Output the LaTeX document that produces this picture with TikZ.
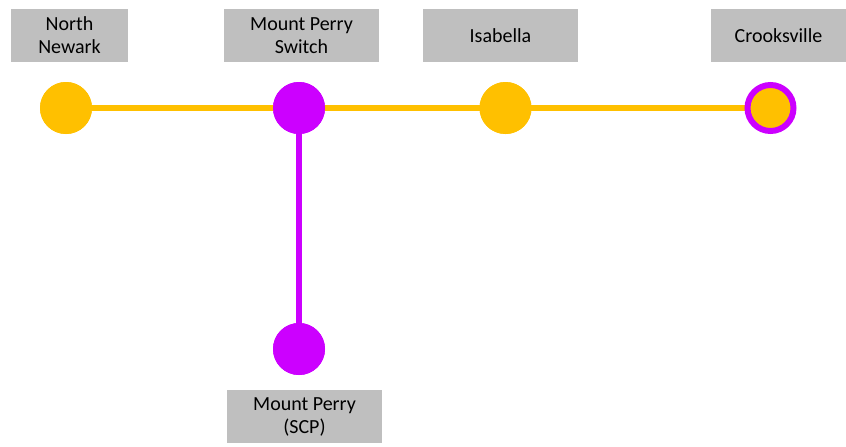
\documentclass[tikz,border=0pt]{standalone}
\usepackage{fontspec}
\setmainfont{Carlito}
\definecolor{ylw}{HTML}{FFC000}
\definecolor{prp}{HTML}{CC00FF}
\definecolor{gry}{HTML}{BFBFBF}
\begin{document}
\begin{tikzpicture}[x=1pt,y=-1pt,
  lbl/.style={fill=gry,inner sep=0pt,align=center,font=\fontsize{20}{23}\selectfont,minimum height=53pt},
  ystn/.style={circle,fill=ylw,minimum size=52pt,inner sep=0pt},
  pstn/.style={circle,fill=prp,minimum size=52pt,inner sep=0pt},
  xstn/.style={circle,fill=ylw,draw=prp,line width=6pt,minimum size=46pt,inner sep=0pt},
  yline/.style={draw=ylw,line width=5.5pt},
  pline/.style={draw=prp,line width=5.5pt}]
\useasboundingbox (0,0) rectangle (846,447);
% stations
\node[ystn] (nn) at (66,108) {};
\node[pstn] (mps) at (299,108) {};
\node[ystn] (isa) at (505.5,108) {};
\node[pstn] (scp) at (299,349) {};
% lines
\draw[yline] (nn.center) -- (mps.center);
\draw[yline] (mps.center) -- (isa.center);
\coordinate (cv) at (770.5,108);
\draw[yline] (isa.center) -- (cv);
\draw[pline] (mps.center) -- (scp.center);
\node[pstn] at (mps) {};
\node[ystn] at (nn) {};
\node[ystn] at (isa) {};
\node[pstn] at (scp) {};
\node[xstn] (cro) at (cv) {};
% labels
\node[lbl,minimum width=117pt] (lnn) at (69.5,35.5) {North\\Newark};
\node[lbl,minimum width=155pt] (lmps) at (301.5,35.5) {Mount Perry\\Switch};
\node[lbl,minimum width=155pt] (lisa) at (500.5,35.5) {Isabella};
\node[lbl,minimum width=135pt] (lcro) at (778.5,35.5) {Crooksville};
\node[lbl,minimum width=155pt] (lscp) at (304.5,416.5) {Mount Perry\\(SCP)};
\end{tikzpicture}
\end{document}
